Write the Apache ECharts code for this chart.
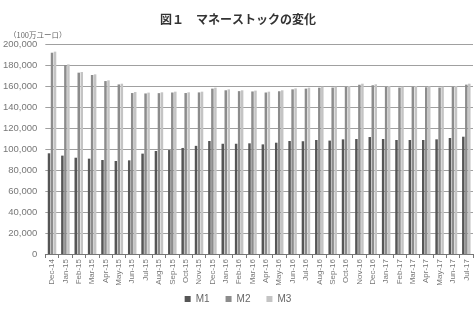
<!DOCTYPE html>
<html>
<head>
<meta charset="utf-8">
<script src="https://cdn.jsdelivr.net/npm/echarts@6/dist/echarts.min.js"></script>
<style>
  html, body { margin: 0; padding: 0; background: #fff; }
  #chart { width: 476px; height: 312px; }
</style>
</head>
<body>
<div id="chart"></div>
<script>
// 月（Dec-14 〜 Jul-17）
const months = [
  'Dec-14', 'Jan-15', 'Feb-15', 'Mar-15', 'Apr-15', 'May-15', 'Jun-15', 'Jul-15',
  'Aug-15', 'Sep-15', 'Oct-15', 'Nov-15', 'Dec-15', 'Jan-16', 'Feb-16', 'Mar-16',
  'Apr-16', 'May-16', 'Jun-16', 'Jul-16', 'Aug-16', 'Sep-16', 'Oct-16', 'Nov-16',
  'Dec-16', 'Jan-17', 'Feb-17', 'Mar-17', 'Apr-17', 'May-17', 'Jun-17', 'Jul-17'
];
const m1 = [
  95900, 93700, 91700, 90800, 89500, 88600, 89200, 95600,
  98100, 99000, 101000, 103000, 107600, 105000, 105000, 105400,
  104400, 106000, 107600, 107400, 108600, 108000, 109200, 109500,
  111400, 109500, 108600, 108600, 108600, 109200, 110500, 111700
];
const m2 = [
  191700, 180000, 172700, 170500, 164700, 161500, 153300, 152900,
  153200, 153800, 153300, 153900, 157500, 155900, 155100, 154800,
  153800, 155000, 156800, 157500, 158400, 158500, 159100, 161200,
  160700, 159100, 158500, 159100, 158800, 158500, 159100, 161300
];
const m3 = [
  192700, 180600, 173300, 171100, 165400, 162200, 154300, 153700,
  154000, 154600, 154000, 154600, 158400, 156800, 155900, 155600,
  154600, 155900, 157700, 158400, 159400, 159400, 160000, 162200,
  161600, 160000, 159400, 160000, 159700, 159400, 160000, 162200
];
const seriesNames = ['M1', 'M2', 'M3'];
const colors = ['#555555', '#8c8c8c', '#c4c4c4'];

const chart = echarts.init(document.getElementById('chart'), null, { renderer: 'canvas' });

chart.setOption({
  animation: false,
  textStyle: { fontFamily: '"Noto Sans CJK JP", "Noto Sans", sans-serif' },
  title: [
    {
      text: '図１　マネーストックの変化',
      left: 'center',
      top: 8,
      textStyle: { fontSize: 12, fontWeight: 'bold', color: '#333' }
    },
    {
      text: '（100万ユーロ）',
      left: 4,
      top: 26,
      textStyle: { fontSize: 7.5, fontWeight: 'normal', color: '#666' }
    }
  ],
  legend: {
    bottom: 3,
    left: 'center',
    itemWidth: 6,
    itemHeight: 6,
    itemGap: 16,
    icon: 'rect',
    textStyle: { fontSize: 10, color: '#666', fontFamily: '"Liberation Sans", sans-serif' },
    data: seriesNames
  },
  grid: { left: 37, right: 3, top: 44, bottom: 58, containLabel: false },
  xAxis: {
    type: 'category',
    data: months,
    axisLine: { lineStyle: { color: '#777', width: 1 } },
    axisTick: { show: true, length: 4, lineStyle: { color: '#777' } },
    axisLabel: {
      rotate: 90,
      interval: 0,
      fontSize: 8,
      color: '#777',
      margin: 5,
      fontFamily: '"Liberation Sans", sans-serif'
    }
  },
  yAxis: {
    type: 'value',
    min: 0,
    max: 200000,
    interval: 20000,
    axisLine: { show: false },
    axisTick: { show: false },
    splitLine: { lineStyle: { color: '#a0a0a0', width: 1 } },
    axisLabel: {
      fontSize: 9.5,
      color: '#777',
      margin: 8,
      fontFamily: '"Liberation Sans", sans-serif',
      formatter: v => v.toLocaleString('en-US')
    }
  },
  series: [m1, m2, m3].map((d, i) => ({
    name: seriesNames[i],
    type: 'bar',
    data: d,
    barWidth: 2.5,
    barGap: '20%',
    itemStyle: { color: colors[i] }
  }))
});
</script>
</body>
</html>
